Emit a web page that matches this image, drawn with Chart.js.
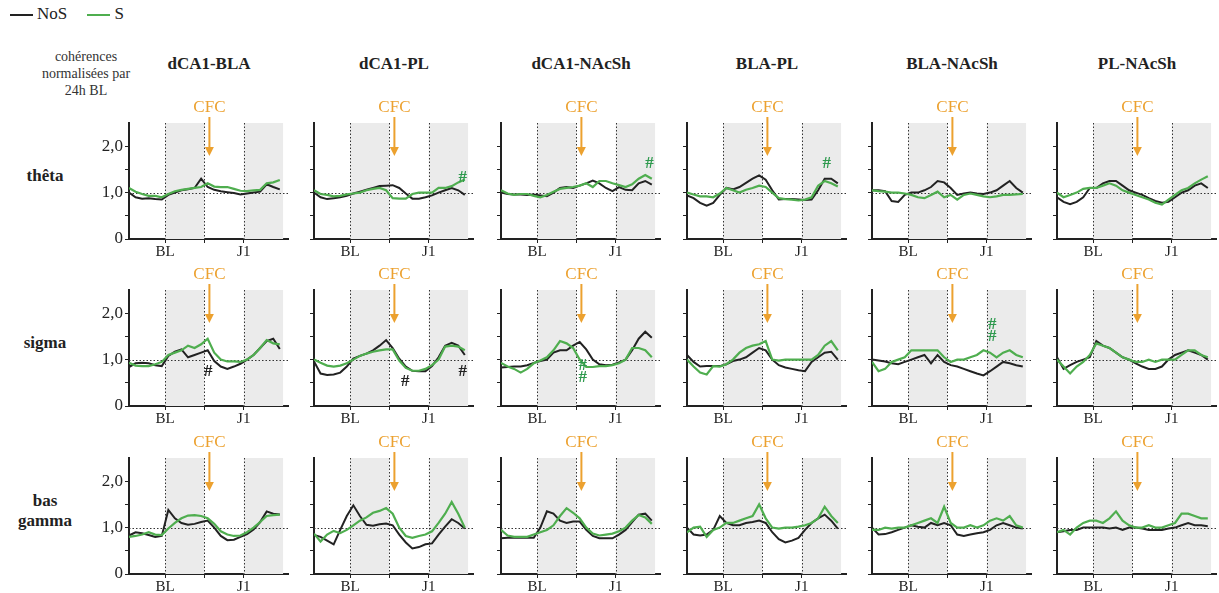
<!DOCTYPE html>
<html lang="fr">
<head>
<meta charset="UTF-8">
<title>Cohérences normalisées par 24h BL</title>
<script src="https://cdn.jsdelivr.net/npm/chart.js"></script>
<style>
  body { margin: 0; background: #fff; font-family: "Liberation Serif", "Times New Roman", Tinos, "DejaVu Serif", serif; color: #222; }
  #fig { position: relative; width: 1219px; height: 593px; overflow: hidden; }
  #fig canvas { position: absolute; }
  .lbl { position: absolute; transform: translate(-50%, -50%); white-space: nowrap; }
  .title { font-weight: bold; font-size: 17px; }
  .row { font-weight: bold; font-size: 17px; text-align: center; line-height: 20px; }
  .note { font-size: 14px; text-align: center; line-height: 17px; color: #333; }
  #legend { position: absolute; left: 10px; top: 4px; font-size: 17px; }
  #legend span.ln { display: inline-block; width: 23px; height: 0; border-top: 2px solid; vertical-align: middle; margin-right: 4px; }
</style>
</head>
<body>
<div id="fig">
  <div id="legend">
    <span class="ln" style="border-color:#222"></span>NoS
    <span class="ln" style="border-color:#4fae4f;margin-left:16px"></span>S
  </div>
  <div class="lbl note" style="left:86px;top:73px">cohérences<br>normalisées par<br>24h BL</div>
</div>

<script>
  // 2 h bins over BL day + J1 (48 h): bin centres
  const hours = [1, 3, 5, 7, 9, 11, 13, 15, 17, 19, 21, 23, 25, 27, 29, 31, 33, 35, 37, 39, 41, 43, 45, 47];
  const pairs = ['dCA1-BLA', 'dCA1-PL', 'dCA1-NAcSh', 'BLA-PL', 'BLA-NAcSh', 'PL-NAcSh'];
  const bands = ['thêta', 'sigma', 'bas<br>gamma'];
  const xTickLabels = { 12: 'BL', 24: '', 36: 'J1' };
  const yTickLabels = { 0: '0', 1: '1,0', 2: '2,0' };

  // one list per column (pair), NoS = black, S = green
  const thetaNoS = [
    [1.0, 0.9, 0.87, 0.88, 0.86, 0.85, 0.95, 1.0, 1.05, 1.07, 1.1, 1.3, 1.12, 1.06, 1.03, 1.01, 0.99, 0.96, 0.98, 1.0, 1.02, 1.18, 1.12, 1.07],
    [1.0, 0.9, 0.86, 0.88, 0.9, 0.93, 0.98, 1.02, 1.06, 1.1, 1.14, 1.15, 1.16, 1.1, 0.98, 0.87, 0.87, 0.9, 0.94, 1.0, 1.05, 1.1, 1.05, 0.95],
    [1.0, 0.97, 0.96, 0.96, 0.95, 0.96, 0.94, 0.92, 1.0, 1.1, 1.12, 1.1, 1.15, 1.2, 1.26, 1.2, 1.1, 1.03, 1.12, 1.06, 1.05, 1.2, 1.25, 1.17],
    [0.94, 0.88, 0.78, 0.72, 0.78, 0.95, 1.1, 1.07, 1.12, 1.21, 1.3, 1.37, 1.28, 1.05, 0.85, 0.86, 0.86, 0.85, 0.84, 0.85, 1.05, 1.3, 1.3, 1.2],
    [1.05, 1.05, 1.03, 0.82, 0.8, 0.95, 1.0, 1.0, 1.05, 1.12, 1.25, 1.22, 1.1, 0.95, 0.98, 1.0, 0.98, 0.97, 1.0, 1.05, 1.15, 1.25, 1.1, 1.0],
    [0.9, 0.8, 0.75, 0.8, 0.9, 1.1, 1.1, 1.2, 1.25, 1.25, 1.15, 1.05, 1.0, 0.95, 0.88, 0.82, 0.78, 0.8, 0.9, 1.0, 1.05, 1.15, 1.2, 1.1]
  ];
  const thetaS = [
    [1.1, 1.02, 0.97, 0.93, 0.93, 0.9, 0.97, 1.03, 1.06, 1.08, 1.1, 1.12, 1.2, 1.13, 1.12, 1.12, 1.08, 1.04, 1.03, 1.05, 1.06, 1.2, 1.22, 1.27],
    [1.05, 0.97, 0.95, 0.92, 0.93, 0.96, 0.98, 1.0, 1.05, 1.08, 1.1, 1.05, 0.88, 0.87, 0.87, 0.97, 1.0, 1.0, 1.0, 1.1, 1.1, 1.14, 1.22, 1.28],
    [1.05, 0.98, 0.95, 0.97, 0.97, 0.93, 0.9, 0.95, 1.02, 1.08, 1.1, 1.12, 1.15, 1.2, 1.12, 1.25, 1.25, 1.2, 1.16, 1.12, 1.18, 1.3, 1.38, 1.3],
    [1.0, 0.96, 0.92, 0.92, 0.9, 0.98, 1.1, 1.05, 1.0, 1.06, 1.1, 1.15, 1.12, 1.0, 0.88, 0.86, 0.85, 0.83, 0.85, 0.9, 1.15, 1.25, 1.2, 1.13],
    [1.05, 1.03, 1.02, 1.0, 1.0, 0.98, 0.95, 0.9, 0.88, 0.95, 1.02, 0.9, 0.95, 0.85, 0.95, 0.98, 0.95, 0.92, 0.9, 0.92, 0.95, 0.95, 0.96, 0.97],
    [1.0, 0.9, 0.95, 1.0, 1.08, 1.1, 1.1, 1.15, 1.2, 1.15, 1.05, 1.0, 0.95, 0.9, 0.85, 0.78, 0.74, 0.85, 0.95, 1.05, 1.1, 1.2, 1.28, 1.35]
  ];
  const sigmaNoS = [
    [0.84, 0.92, 0.93, 0.92, 0.88, 0.86, 1.08, 1.17, 1.22, 1.05, 1.1, 1.15, 1.2, 0.97, 0.85, 0.8, 0.85, 0.91, 1.0, 1.1, 1.25, 1.4, 1.45, 1.23],
    [0.96, 0.7, 0.67, 0.68, 0.72, 0.85, 1.02, 1.08, 1.13, 1.2, 1.3, 1.42, 1.25, 1.02, 0.85, 0.76, 0.75, 0.75, 0.86, 1.05, 1.3, 1.36, 1.3, 1.1],
    [0.83, 0.84, 0.85, 0.85, 0.88, 0.93, 0.97, 1.0, 1.15, 1.2, 1.2, 1.3, 1.38, 1.22, 1.0, 0.9, 0.88, 0.89, 0.94, 1.0, 1.2, 1.45, 1.6, 1.47],
    [1.1, 0.95, 0.85, 0.86, 0.86, 0.86, 0.9, 0.97, 1.0, 1.05, 1.15, 1.25, 1.2, 1.0, 0.88, 0.83, 0.8, 0.77, 0.75, 0.95, 1.05, 1.15, 1.17, 1.0],
    [1.0, 0.98, 0.96, 0.92, 0.9, 0.95, 1.0, 1.05, 1.1, 0.92, 1.1, 0.95, 0.88, 0.85, 0.8, 0.75, 0.7, 0.66, 0.75, 0.85, 0.95, 0.92, 0.88, 0.85],
    [1.05, 0.8, 0.88, 0.95, 1.0, 1.05, 1.4, 1.3, 1.25, 1.15, 1.05, 1.0, 0.92, 0.85, 0.8, 0.8, 0.85, 1.0, 1.1, 1.15, 1.2, 1.15, 1.1, 1.0]
  ];
  const sigmaS = [
    [0.93, 0.87, 0.86, 0.86, 0.9, 0.95, 1.1, 1.15, 1.2, 1.3, 1.25, 1.33, 1.45, 1.15, 1.0, 0.96, 0.96, 0.95, 1.0, 1.1, 1.25, 1.42, 1.35, 1.33],
    [1.0, 0.93, 0.87, 0.85, 0.87, 0.92, 1.0, 1.08, 1.13, 1.17, 1.2, 1.22, 1.22, 0.98, 0.82, 0.76, 0.76, 0.8, 0.88, 1.0, 1.28, 1.3, 1.28, 1.2],
    [0.93, 0.85, 0.8, 0.72, 0.8, 0.92, 0.98, 1.05, 1.2, 1.4, 1.35, 1.25, 1.0, 0.84, 0.84, 0.86, 0.86, 0.88, 0.92, 1.0, 1.25, 1.25, 1.2, 1.05],
    [1.0, 0.85, 0.72, 0.68, 0.86, 0.85, 0.9, 1.0, 1.15, 1.25, 1.3, 1.33, 1.4, 1.0, 0.98, 1.0, 1.0, 1.0, 1.0, 1.0, 1.1, 1.3, 1.4, 1.2],
    [0.95, 0.75, 0.8, 0.95, 1.0, 1.05, 1.2, 1.2, 1.2, 1.2, 1.2, 1.05, 0.95, 1.0, 1.0, 1.05, 1.1, 1.2, 1.15, 1.05, 1.15, 1.2, 1.1, 1.05],
    [1.0, 0.85, 0.7, 0.85, 0.95, 1.1, 1.35, 1.3, 1.25, 1.15, 1.05, 1.0, 0.95, 0.95, 1.0, 0.95, 1.0, 1.0, 1.0, 1.1, 1.2, 1.2, 1.1, 1.05]
  ];
  const gammaNoS = [
    [0.83, 0.9, 0.88, 0.84, 0.8, 0.82, 1.38, 1.2, 1.1, 1.06, 1.08, 1.12, 1.15, 1.0, 0.82, 0.73, 0.74, 0.8, 0.86, 0.96, 1.12, 1.35, 1.3, 1.28],
    [0.84, 0.8, 0.72, 0.64, 0.95, 1.25, 1.48, 1.25, 1.06, 1.04, 1.07, 1.09, 1.05, 0.85, 0.68, 0.55, 0.58, 0.64, 0.66, 0.85, 1.02, 1.18, 1.1, 0.98],
    [0.77, 0.78, 0.78, 0.78, 0.78, 0.78, 1.0, 1.35, 1.3, 1.15, 1.1, 1.13, 1.13, 0.95, 0.82, 0.77, 0.77, 0.77, 0.85, 0.95, 1.12, 1.28, 1.3, 1.15],
    [1.0, 0.85, 0.83, 0.85, 0.95, 1.25, 1.1, 1.05, 1.05, 1.1, 1.12, 1.15, 1.1, 0.9, 0.75, 0.68, 0.72, 0.78, 0.95, 1.1, 1.2, 1.28, 1.15, 0.98],
    [1.0, 0.85, 0.86, 0.9, 0.95, 1.0, 1.05, 1.02, 1.0, 1.1, 1.05, 1.1, 1.05, 0.85, 0.82, 0.85, 0.88, 0.9, 0.95, 1.05, 1.1, 1.05, 1.0, 0.98],
    [0.9, 0.92, 0.95, 0.95, 1.0, 1.0, 1.0, 1.0, 0.98, 1.0, 0.95, 1.0, 1.0, 0.98, 0.95, 0.95, 0.95, 0.98, 1.0, 1.05, 1.1, 1.05, 1.05, 1.03]
  ];
  const gammaS = [
    [0.8, 0.82, 0.85, 0.9, 0.85, 0.84, 0.98, 1.1, 1.2, 1.26, 1.27, 1.25, 1.2, 1.08, 0.92, 0.85, 0.82, 0.83, 0.9, 1.0, 1.12, 1.25, 1.27, 1.28],
    [0.87, 0.7, 0.85, 0.93, 0.88, 0.95, 1.05, 1.15, 1.22, 1.32, 1.36, 1.42, 1.3, 1.0, 0.82, 0.78, 0.82, 0.85, 0.92, 1.1, 1.3, 1.55, 1.3, 1.0],
    [0.95, 0.83, 0.8, 0.8, 0.8, 0.85, 0.9, 0.95, 1.05, 1.25, 1.42, 1.32, 1.2, 1.0, 0.87, 0.83, 0.85, 0.87, 0.92, 1.0, 1.15, 1.27, 1.22, 1.08],
    [0.9, 1.0, 1.02, 0.8, 0.95, 1.0, 1.1, 1.1, 1.15, 1.2, 1.25, 1.5, 1.2, 1.0, 0.98, 1.0, 1.0, 1.02, 1.05, 1.1, 1.2, 1.45, 1.25, 1.1],
    [0.95, 0.95, 1.0, 0.98, 1.0, 1.0, 1.05, 1.1, 1.15, 1.2, 1.1, 1.45, 1.1, 1.0, 1.0, 1.05, 1.0, 1.05, 1.15, 1.2, 1.15, 1.25, 1.05, 1.0],
    [0.9, 0.95, 0.85, 1.0, 1.1, 1.15, 1.15, 1.1, 1.2, 1.35, 1.15, 1.05, 1.0, 1.0, 1.05, 1.0, 1.0, 1.05, 1.1, 1.3, 1.3, 1.25, 1.2, 1.2]
  ];

  // significance marks: [row, column, hour, value, group]
  const hashes = [
    [0, 1, 46.4, 1.33, 'S'], [0, 2, 46.3, 1.63, 'S'], [0, 3, 43.6, 1.63, 'S'],
    [1, 0, 25.2, 0.74, 'NoS'], [1, 1, 28.8, 0.52, 'NoS'], [1, 1, 46.4, 0.74, 'NoS'],
    [1, 2, 25.9, 0.86, 'S'], [1, 2, 25.9, 0.62, 'S'],
    [1, 4, 37.7, 1.76, 'S'], [1, 4, 37.7, 1.5, 'S']
  ];

  const rowsNoS = [thetaNoS, sigmaNoS, gammaNoS];
  const rowsS = [thetaS, sigmaS, gammaS];

  const BLACK = '#222222', GREEN = '#4fae4f', ORANGE = '#eca12f';
  const axisX = [129, 314, 501, 687, 872, 1057];
  const plotTop = [123, 290, 458];
  const fig = document.getElementById('fig');
  const serif = '"Liberation Serif", "Times New Roman", Tinos, "DejaVu Serif", serif';

  // background bands, dotted guides, CFC arrow, # marks
  const panelDecor = {
    id: 'panelDecor',
    beforeDatasetsDraw(chart) {
      const { ctx, chartArea: a, scales: { x, y } } = chart;
      ctx.save();
      ctx.fillStyle = '#ebebeb';
      [[12, 24], [36, 48]].forEach(([s, e]) => {
        ctx.fillRect(x.getPixelForValue(s), a.top, x.getPixelForValue(e) - x.getPixelForValue(s), a.bottom - a.top);
      });
      ctx.strokeStyle = '#333';
      ctx.lineWidth = 1;
      ctx.setLineDash([1.5, 2]);
      [12, 24, 36].forEach(h => {
        const px = Math.round(x.getPixelForValue(h)) + 0.5;
        ctx.beginPath(); ctx.moveTo(px, a.top); ctx.lineTo(px, a.bottom); ctx.stroke();
      });
      const py = Math.round(y.getPixelForValue(1)) + 0.5;
      ctx.beginPath(); ctx.moveTo(a.left, py); ctx.lineTo(a.right, py); ctx.stroke();
      ctx.restore();
    },
    afterDraw(chart, args, opts) {
      const { ctx, chartArea: a, scales: { x, y } } = chart;
      ctx.save();
      const ax = x.getPixelForValue(24) + 5;
      ctx.fillStyle = ORANGE;
      ctx.font = '17px ' + serif;
      ctx.textAlign = 'center';
      ctx.textBaseline = 'middle';
      ctx.fillText('CFC', ax, a.top - 15);
      ctx.strokeStyle = ORANGE;
      ctx.lineWidth = 2;
      ctx.beginPath(); ctx.moveTo(ax, a.top - 6); ctx.lineTo(ax, a.top + 26); ctx.stroke();
      ctx.beginPath();
      ctx.moveTo(ax - 4.5, a.top + 24); ctx.lineTo(ax + 4.5, a.top + 24); ctx.lineTo(ax, a.top + 33);
      ctx.closePath(); ctx.fill();
      ctx.font = 'bold 17px ' + serif;
      opts.marks.forEach(m => {
        ctx.fillStyle = m[4] === 'S' ? '#2e9a4e' : BLACK;
        ctx.fillText('#', x.getPixelForValue(m[2]), y.getPixelForValue(m[3]));
      });
      ctx.restore();
    }
  };

  pairs.forEach((pair, c) => {
    const t = document.createElement('div');
    t.className = 'lbl title';
    t.style.left = (axisX[c] + 80) + 'px';
    t.style.top = '64px';
    t.textContent = pair;
    fig.appendChild(t);
  });
  bands.forEach((band, r) => {
    const d = document.createElement('div');
    d.className = 'lbl row';
    d.style.left = '45px';
    d.style.top = (plotTop[r] + 53) + 'px';
    d.innerHTML = band;
    fig.appendChild(d);
  });

  for (let r = 0; r < 3; r++) {
    for (let c = 0; c < 6; c++) {
      const cv = document.createElement('canvas');
      cv.width = 200; cv.height = 183;
      cv.style.left = (axisX[c] - 35) + 'px';
      cv.style.top = (plotTop[r] - 45) + 'px';
      fig.appendChild(cv);
      const toPts = arr => hours.map((h, i) => ({ x: h, y: arr[i] }));
      new Chart(cv, {
        type: 'line',
        data: {
          datasets: [
            { label: 'S', data: toPts(rowsS[r][c]), borderColor: GREEN, borderWidth: 2.2, pointRadius: 0, tension: 0 },
            { label: 'NoS', data: toPts(rowsNoS[r][c]), borderColor: BLACK, borderWidth: 2, pointRadius: 0, tension: 0 }
          ]
        },
        options: {
          responsive: false,
          animation: false,
          layout: { padding: { top: 45, right: 6, left: 0, bottom: 0 } },
          plugins: {
            legend: { display: false },
            tooltip: { enabled: false },
            panelDecor: { marks: hashes.filter(m => m[0] === r && m[1] === c) }
          },
          scales: {
            x: {
              type: 'linear', min: 1, max: 49.5,
              afterBuildTicks: s => { s.ticks = [12, 24, 36].map(v => ({ value: v })); },
              afterFit: s => { s.height = 22; },
              ticks: { callback: v => xTickLabels[v], color: BLACK, font: { family: serif, size: 15 }, padding: 0, maxRotation: 0, autoSkip: false },
              grid: { drawOnChartArea: false, drawTicks: true, tickLength: 4, color: BLACK },
              border: { color: BLACK, width: 2 }
            },
            y: {
              min: 0, max: 2.5,
              afterBuildTicks: s => { s.ticks = [0, 0.5, 1, 1.5, 2].map(v => ({ value: v })); },
              afterFit: s => { s.width = 35; },
              ticks: {
                callback: v => yTickLabels[v] || '',
                color: c === 0 ? BLACK : 'rgba(0,0,0,0)',
                font: { family: serif, size: 17 }, padding: 2
              },
              grid: { drawOnChartArea: false, drawTicks: true, tickLength: 4, color: BLACK },
              border: { color: BLACK, width: 2 }
            }
          }
        },
        plugins: [panelDecor]
      });
    }
  }
</script>
</body>
</html>
